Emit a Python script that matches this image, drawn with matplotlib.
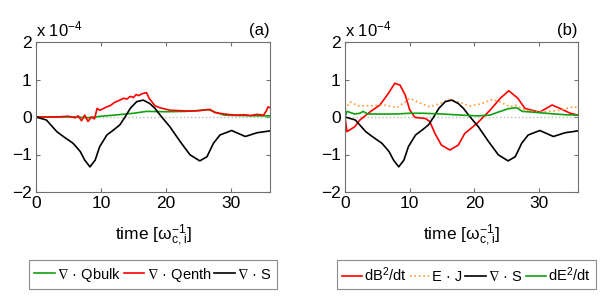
import matplotlib
matplotlib.use("Agg")
import matplotlib.pyplot as plt

plt.rcParams['font.family'] = ['Liberation Sans', 'DejaVu Sans']
plt.rcParams['mathtext.default'] = 'regular'

# --- datos (unidades de 1e-4) ---
t_s = [0, 1.6, 3.2, 4.2, 5.7, 6.8, 7.5, 8.3, 9.1, 9.8, 10.9, 11.9, 12.9, 13.7, 14.5,
       15.5, 16.5, 17.5, 18.3, 19.1, 20.6, 22.2, 23.7, 25.2, 26.3, 27.3, 28.3, 30.1,
       32.2, 34.0, 36]
div_s = [0, -0.08, -0.39, -0.52, -0.7, -0.92, -1.15, -1.33, -1.15, -0.79, -0.48, -0.35,
         -0.21, 0.0, 0.23, 0.41, 0.45, 0.36, 0.23, 0.05, -0.26, -0.66, -1.01, -1.17,
         -1.06, -0.7, -0.48, -0.36, -0.52, -0.42, -0.37]

t_qenth = [0, 3, 5, 6, 6.5, 7, 7.5, 8, 8.5, 9, 9.4, 9.8, 10.3, 11, 11.4, 12, 12.5, 12.9,
           13.5, 14, 14.5, 15, 15.4, 15.8, 16.3, 17, 17.4, 18.3, 19, 20.6, 22, 23.7, 25,
           26.8, 27.5, 29, 30, 31, 32, 33, 34, 35, 35.4, 35.7, 36]
div_qenth = [0, 0, 0.02, -0.02, 0.03, -0.1, 0.05, -0.12, 0.0, -0.05, 0.23, 0.18, 0.22,
             0.28, 0.3, 0.38, 0.42, 0.45, 0.5, 0.48, 0.55, 0.52, 0.6, 0.57, 0.62, 0.65,
             0.5, 0.3, 0.25, 0.18, 0.17, 0.16, 0.17, 0.2, 0.12, 0.08, 0.06, 0.05, 0.06,
             0.04, 0.07, 0.05, 0.15, 0.27, 0.25]

t_qbulk = [0, 6, 8, 10, 12, 15, 17, 20, 23, 25, 26.5, 28, 29, 31, 34, 36]
div_qbulk = [0, 0, -0.02, 0.02, 0.05, 0.1, 0.15, 0.14, 0.15, 0.17, 0.2, 0.1, 0.05,
             0.04, 0.03, 0.03]

t_db2 = [0, 0.3, 1.5, 2.3, 3.9, 5.4, 6.7, 7.7, 8.5, 9.3, 10.0, 10.8, 12.4, 13.1, 13.9,
         14.9, 16.2, 17.5, 18.5, 20.4, 22.4, 24.0, 25.3, 26.7, 27.8, 28.9, 30.1, 32.0,
         33.2, 34.8, 36]
db2_dt = [0, -0.39, -0.26, -0.08, 0.14, 0.32, 0.63, 0.9, 0.85, 0.59, 0.19, -0.01, -0.04,
          -0.12, -0.44, -0.75, -0.88, -0.75, -0.44, -0.17, 0.18, 0.5, 0.7, 0.5, 0.23,
          0.18, 0.13, 0.32, 0.23, 0.1, 0.05]

t_ej = [0, 0.8, 2, 4, 6, 8, 9.3, 10, 11.5, 13.1, 14.5, 16.2, 17.5, 19.3, 21, 22.8,
        24, 25.5, 26.3, 27.8, 30.6, 33.2, 35.2, 36]
e_dot_j = [0.2, 0.4, 0.3, 0.3, 0.32, 0.25, 0.4, 0.5, 0.38, 0.27, 0.35, 0.47, 0.4, 0.29,
           0.35, 0.47, 0.4, 0.27, 0.32, 0.18, 0.13, 0.18, 0.27, 0.25]

t_de2 = [0, 0.3, 1.5, 2.3, 2.8, 3.5, 8, 10, 12, 15, 18, 20.5, 22.4, 23.5, 25.2, 26.5,
         27.4, 29, 31, 34, 36]
de2_dt = [0, 0.15, 0.08, 0.1, 0.15, 0.08, 0.08, 0.1, 0.1, 0.08, 0.05, 0.03, 0.05, 0.12,
          0.22, 0.25, 0.15, 0.13, 0.1, 0.06, 0.05]

xticks = [0, 10, 20, 30]
yticks = [-2, -1, 0, 1, 2]

fig = plt.figure(figsize=(6.02, 3.07), dpi=100)
ax1 = fig.add_axes([36 / 602, 1 - 192 / 307, 234 / 602, 150 / 307])
ax2 = fig.add_axes([345 / 602, 1 - 192 / 307, 233 / 602, 150 / 307])

lw = 1.2
ax1.plot([0, 36], [0, 0], color='#bbbbbb', ls=':', lw=1)
ax1.plot(t_qbulk, div_qbulk, color='#11a011', lw=lw, label=r'$\nabla$ · Qbulk')
ax1.plot(t_qenth, div_qenth, color='#ff0000', lw=lw, label=r'$\nabla$ · Qenth')
ax1.plot(t_s, div_s, color='black', lw=lw, label=r'$\nabla$ · S')

ax2.plot([0, 36], [0, 0], color='#bbbbbb', ls=':', lw=1)
ax2.plot(t_db2, db2_dt, color='#ff0000', lw=lw, label='dB$^2$/dt')
ax2.plot(t_ej, e_dot_j, color='#ff9933', lw=lw, ls=':', label='E · J')
ax2.plot(t_s, div_s, color='black', lw=lw, label=r'$\nabla$ · S')
ax2.plot(t_de2, de2_dt, color='#11a011', lw=lw, label='dE$^2$/dt')

for ax, tag in [(ax1, '(a)'), (ax2, '(b)')]:
    ax.set_xlim(0, 36)
    ax.set_ylim(-2, 2)
    ax.set_xticks(xticks)
    ax.set_yticks(yticks)
    ax.tick_params(direction='in', top=True, right=True, labelsize=12.5,
                   color='#707070', length=3, pad=3)
    for s in ax.spines.values():
        s.set_color('#707070')
        s.set_linewidth(0.8)
    ax.set_xlabel(r'time [$\omega_{c,i}^{-1}$]', fontsize=12.5, labelpad=8)
    ax.text(0.0, 1.015, r'x 10$^{-4}$', transform=ax.transAxes, fontsize=12,
            ha='left', va='bottom')
    ax.text(1.0, 1.03, tag, transform=ax.transAxes, fontsize=12,
            ha='right', va='bottom')

leg_kw = dict(loc='center', fontsize=10.5, frameon=True, fancybox=False,
              handlelength=1.4, handletextpad=0.15, columnspacing=0.2,
              borderpad=0.35, borderaxespad=0)
l1 = ax1.legend(ncol=3, bbox_to_anchor=(0.5, -0.55), **leg_kw)
l2 = ax2.legend(ncol=4, bbox_to_anchor=(0.52, -0.55), **leg_kw)
for l in (l1, l2):
    l.get_frame().set_edgecolor('#707070')
    l.get_frame().set_linewidth(0.8)

fig.savefig('out.png', dpi=100)
